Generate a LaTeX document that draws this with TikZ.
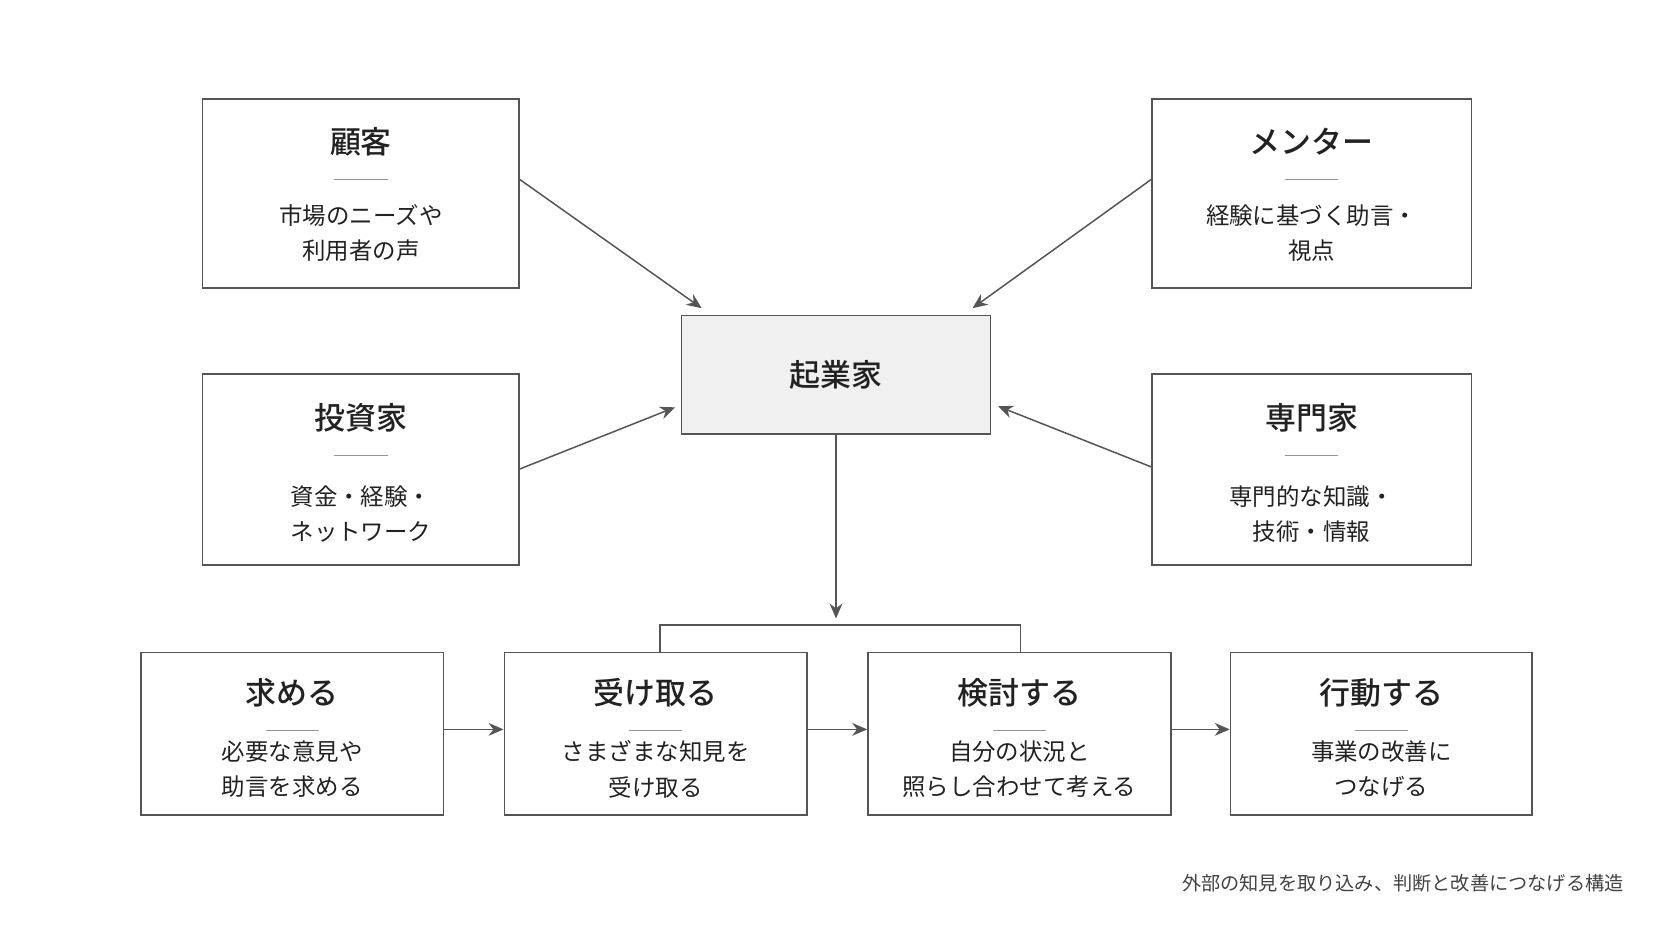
\documentclass[tikz,border=0pt]{standalone}
\usepackage{fontspec}
\setmainfont{Noto Sans CJK JP}
\newfontfamily\medfont{Noto Sans CJK JP Medium}
\usetikzlibrary{arrows.meta}
\definecolor{linegray}{RGB}{85,85,85}
\definecolor{rulegray}{RGB}{150,150,150}
\definecolor{txt}{RGB}{34,34,34}
\tikzset{
  card/.style={draw=linegray, line width=0.8pt, fill=white, inner sep=0pt},
  ttl/.style={font=\medfont\fontsize{14.5}{17}\selectfont, text=txt, inner sep=0pt},
  body/.style={font=\fontsize{11}{16.5}\selectfont, text=txt, align=center, inner sep=0pt},
  link/.style={draw=linegray, line width=0.7pt, -{Stealth[length=7pt,width=6pt]}},
}
% box: name, center x, center y, width, height, title, title dy, body, body dy
\newcommand\infobox[9]{
  \node[card, minimum width=#4*0.5pt, minimum height=#5*0.5pt] (#1) at (#2,#3) {};
  \node[ttl] (#1-t) at (#2,#3+#7) {#6};
  \draw[rulegray, line width=0.5pt] (#2-25,#3+#7+35) -- (#2+25,#3+#7+35);
  \node[body] (#1-b) at (#2,#3+#9) {#8};
}
\begin{document}
\begin{tikzpicture}[x=0.5pt,y=-0.5pt]
  \useasboundingbox[fill=white] (0,0) rectangle (1568,882.4);
  % upper group
  \infobox{cust}{338.5}{181.5}{297}{177}{顧客}{-48.5}{市場のニーズや\\利用者の声}{37}
  \infobox{ment}{1230}{181.5}{300}{177}{メンター}{-48.5}{経験に基づく助言・\\視点}{37}
  \infobox{inv}{338.5}{440.5}{297}{179}{投資家}{-48.5}{資金・経験・\\ネットワーク}{41.5}
  \infobox{exp}{1230}{440.5}{300}{179}{専門家}{-48.5}{専門的な知識・\\技術・情報}{41.5}
  \node[card, fill=black!6, minimum width=145pt, minimum height=55.5pt] (ent) at (784,351.5) {};
  \node[ttl] at (ent) {起業家};
  \coordinate (cust-o) at (487,168);
  \coordinate (ment-o) at (1080,168);
  \coordinate (inv-o) at (487,440);
  \coordinate (exp-o) at (1080,438);
  \coordinate (ent-a) at (658,289);
  \coordinate (ent-b) at (912,289);
  \coordinate (ent-c) at (633,382);
  \coordinate (ent-d) at (936,381);
  \draw[link] (cust-o) -- (ent-a);
  \draw[link] (ment-o) -- (ent-b);
  \draw[link] (inv-o) -- (ent-c);
  \draw[link] (exp-o) -- (ent-d);
  % steps
  \infobox{s1}{274}{688}{284}{152}{求める}{-38}{必要な意見や\\助言を求める}{33.5}
  \infobox{s2}{615}{688}{284}{152}{受け取る}{-38}{さまざまな知見を\\受け取る}{33.5}
  \infobox{s3}{956}{688}{284}{152}{検討する}{-38}{自分の状況と\\照らし合わせて考える}{33.5}
  \infobox{s4}{1295.5}{688}{283}{152}{行動する}{-38}{事業の改善に\\つなげる}{33.5}
  \coordinate (fork) at (784,580);
  \draw[link] (ent.south) -- (fork);
  \draw[linegray, line width=0.7pt] (619,612) -- (619,586) -- (957,586) -- (957,612);
  \draw[link] (s1.east |- 0,684) -- (s2.west |- 0,684);
  \draw[link] (s2.east |- 0,684) -- (s3.west |- 0,684);
  \draw[link] (s3.east |- 0,684) -- (s4.west |- 0,684);
  % caption
  \node[anchor=east, font=\fontsize{9}{10}\selectfont, text=txt!85, inner sep=0pt] (cap) at (1523,828) {外部の知見を取り込み、判断と改善につなげる構造};
\end{tikzpicture}
\end{document}
